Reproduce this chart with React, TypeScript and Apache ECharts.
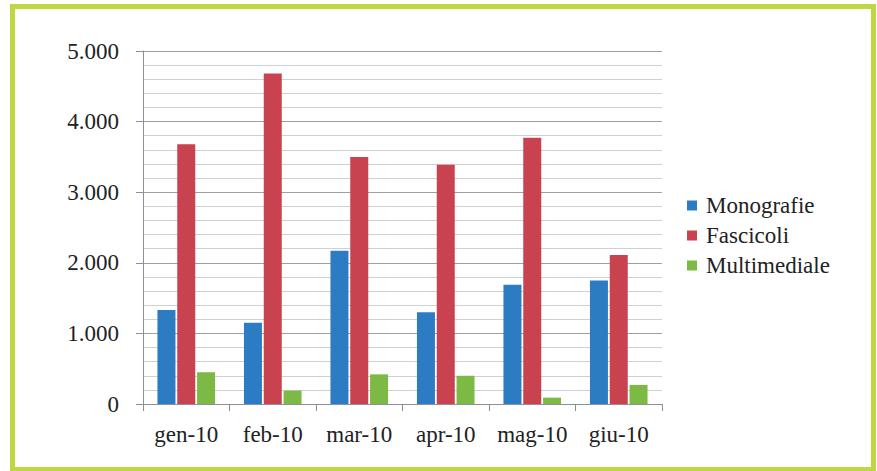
import React, { useEffect, useRef } from "react";
import * as echarts from "echarts";

const categories = ["gen-10", "feb-10", "mar-10", "apr-10", "mag-10", "giu-10"];
const monografie = [1330, 1150, 2170, 1300, 1690, 1750];
const fascicoli = [3680, 4680, 3500, 3390, 3770, 2110];
const multimediale = [450, 190, 420, 400, 90, 270];
const seriesNames = ["Monografie", "Fascicoli", "Multimediale"];
const seriesColors = ["#2c7cc3", "#c8424f", "#7cba45"];

const FONT = "Liberation Serif";

const fmt = (v: number) => {
  const s = String(Math.round(v));
  return s.replace(/\B(?=(\d{3})+(?!\d))/g, ".");
};

export default function App() {
  const ref = useRef<HTMLDivElement>(null);
  useEffect(() => {
    if (!ref.current) return;
    const chart = echarts.init(ref.current, null, { renderer: "svg" });
    const data = [monografie, fascicoli, multimediale];
    chart.setOption({
      animation: false,
      backgroundColor: "#ffffff",
      textStyle: { fontFamily: FONT },
      graphic: [
        {
          type: "rect",
          shape: { x: 12.5, y: 6.5, width: 861, height: 463 },
          style: { fill: "none", stroke: "#bfd842", lineWidth: 5 },
          silent: true,
        },
      ],
      legend: {
        orient: "vertical",
        left: 682,
        top: 189,
        itemWidth: 10,
        itemHeight: 10,
        itemGap: 7,
        icon: "rect",
        textStyle: { fontFamily: FONT, fontSize: 23, color: "#222", padding: [0, 0, 0, 4] },
        data: seriesNames,
      },
      grid: { left: 143, right: 215, top: 51, bottom: 67, containLabel: false },
      xAxis: {
        type: "category",
        data: categories,
        axisLine: { show: true, lineStyle: { color: "#8a9098", width: 1 } },
        axisTick: { show: true, length: 7, lineStyle: { color: "#8a9098" } },
        axisLabel: { fontFamily: FONT, fontSize: 23, color: "#222", margin: 19, interval: 0 },
      },
      yAxis: {
        type: "value",
        min: 0,
        max: 5000,
        interval: 1000,
        axisLine: { show: true, lineStyle: { color: "#8a9098", width: 1 } },
        axisTick: { show: true, length: 7, lineStyle: { color: "#8a9098" } },
        axisLabel: {
          fontFamily: FONT,
          fontSize: 23,
          color: "#222",
          margin: 24,
          formatter: (v: number) => fmt(v),
        },
        splitLine: { show: true, lineStyle: { color: "#9aa1a8", width: 1 } },
        minorTick: { show: false, splitNumber: 5 },
        minorSplitLine: { show: true, lineStyle: { color: "#cdd1d5", width: 1 } },
      },
      series: seriesNames.map((name, i) => ({
        name,
        type: "bar",
        data: data[i],
        barWidth: 18,
        barGap: "10%",
        itemStyle: { color: seriesColors[i] },
      })),
    });
    return () => chart.dispose();
  }, []);
  return (
    <div
      ref={ref}
      style={{ position: "fixed", left: 0, top: 0, width: 877, height: 471 }}
    />
  );
}
